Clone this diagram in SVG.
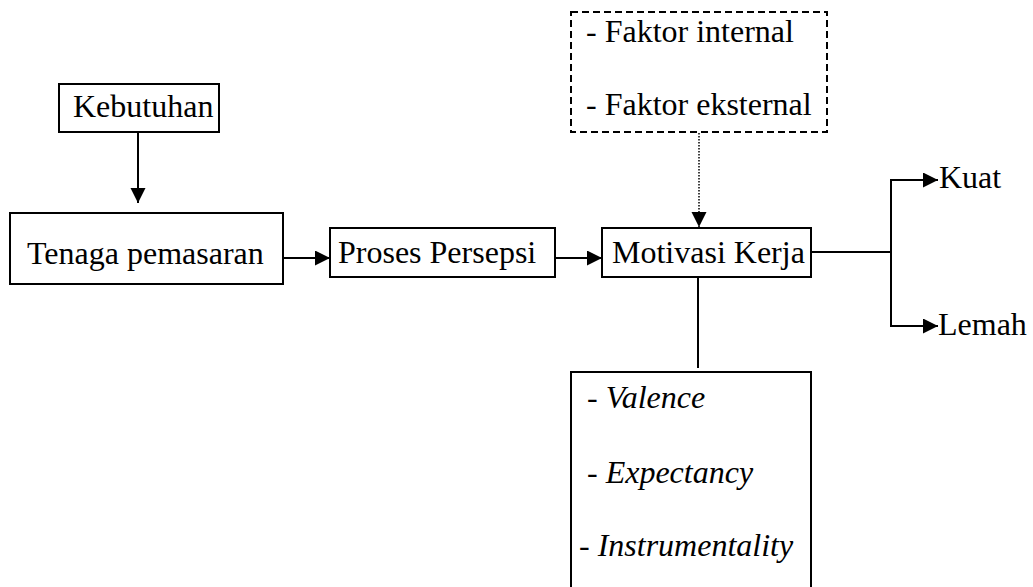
<svg xmlns="http://www.w3.org/2000/svg" width="1033" height="587" viewBox="0 0 1033 587">
<defs>
<style>
.box{fill:#fff;stroke:#000;stroke-width:2}
.dbox{fill:#fff;stroke:#000;stroke-width:2;stroke-dasharray:7,4}
.t{font-family:'Liberation Serif','Times New Roman',serif;font-size:32px;fill:#000}
.i{font-style:italic}
.ln{fill:none;stroke:#000;stroke-width:2}
.dot{fill:none;stroke:#000;stroke-width:1.5;stroke-dasharray:1.5,1.5}
</style>
<marker id="ah" markerWidth="16" markerHeight="16" refX="15" refY="7.5" orient="auto" markerUnits="userSpaceOnUse">
<path d="M0,0 L15,7.5 L0,15 Z" fill="#000"/>
</marker>
</defs>
<rect width="1033" height="587" fill="#fff"/>
<g id="connectors">
<line class="ln" x1="138" y1="132" x2="138" y2="203" marker-end="url(#ah)"/>
<line class="ln" x1="284" y1="258" x2="330" y2="258" marker-end="url(#ah)"/>
<line class="ln" x1="555" y1="258" x2="602" y2="258" marker-end="url(#ah)"/>
<line class="dot" x1="699" y1="133" x2="699" y2="227" marker-end="url(#ah)"/>
<line class="ln" x1="811" y1="252" x2="891" y2="252"/>
<line class="ln" x1="891" y1="180" x2="891" y2="326"/>
<line class="ln" x1="890" y1="180" x2="938" y2="180" marker-end="url(#ah)"/>
<line class="ln" x1="890" y1="326" x2="938" y2="326" marker-end="url(#ah)"/>
<line class="ln" x1="698" y1="277" x2="698" y2="368"/>
</g>
<g id="kebutuhan">
<rect class="box" x="59" y="84" width="160" height="48"/>
<text class="t" x="73" y="117">Kebutuhan</text>
</g>
<g id="tenaga">
<rect class="box" x="10" y="213" width="273" height="71"/>
<text class="t" x="27" y="264">Tenaga pemasaran</text>
</g>
<g id="proses">
<rect class="box" x="330" y="228" width="225" height="49"/>
<text class="t" x="338" y="263">Proses Persepsi</text>
</g>
<g id="motivasi">
<rect class="box" x="602" y="228" width="209" height="49"/>
<text class="t" x="612" y="263">Motivasi Kerja</text>
</g>
<g id="faktor">
<rect class="dbox" x="571" y="12" width="256" height="120"/>
<text class="t" x="586" y="42">- Faktor internal</text>
<text class="t" x="586" y="115">- Faktor eksternal</text>
</g>
<g id="kuat">
<text class="t" x="939" y="188">Kuat</text>
</g>
<g id="lemah">
<text class="t" x="938" y="335">Lemah</text>
</g>
<g id="vei">
<rect class="box" x="571" y="372" width="240" height="230"/>
<text class="t" x="587" y="408">- <tspan class="i">Valence</tspan></text>
<text class="t" x="587" y="483">- <tspan class="i">Expectancy</tspan></text>
<text class="t" x="579" y="556">- <tspan class="i">Instrumentality</tspan></text>
</g>
</svg>
